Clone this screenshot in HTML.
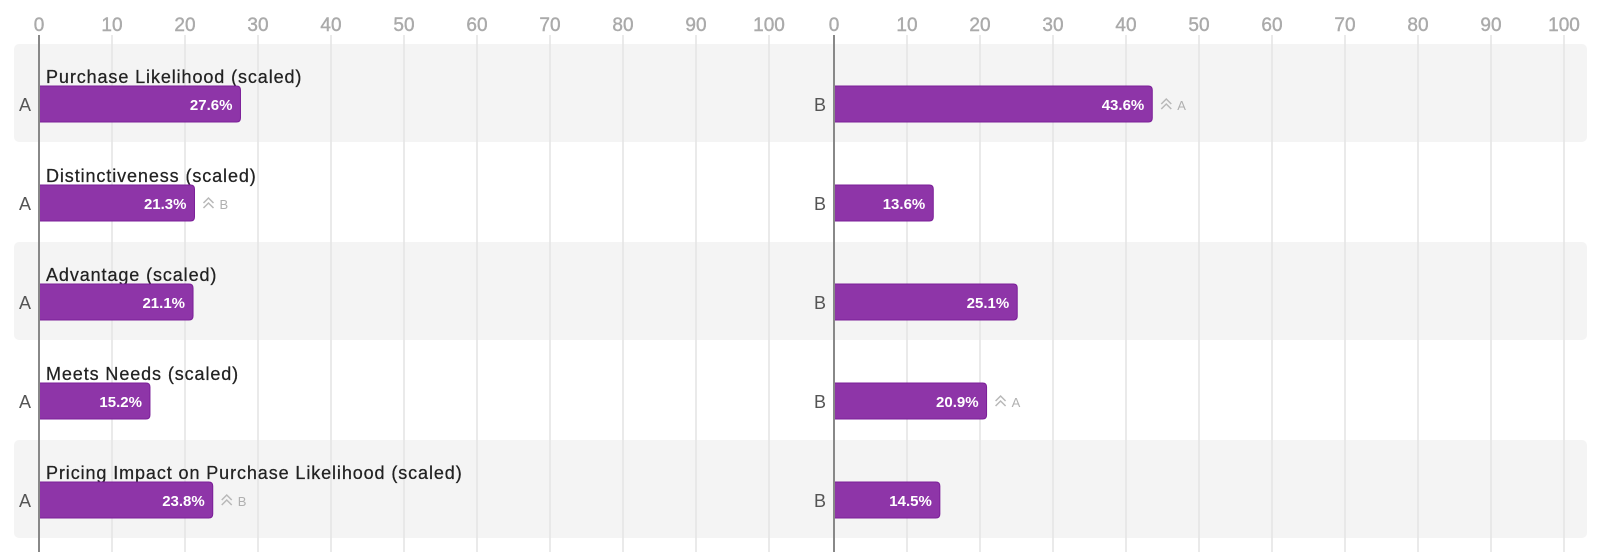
<!DOCTYPE html>
<html><head><meta charset="utf-8"><style>
html,body{margin:0;padding:0;background:#fff;}
svg{display:block;font-family:"Liberation Sans",sans-serif;}
</style></head><body>
<svg id="chart" width="1600" height="552" xmlns="http://www.w3.org/2000/svg"></svg>
<script>
const categories = ["Purchase Likelihood (scaled)","Distinctiveness (scaled)","Advantage (scaled)","Meets Needs (scaled)","Pricing Impact on Purchase Likelihood (scaled)"];
const seriesA = [27.6, 21.3, 21.1, 15.2, 23.8];
const seriesB = [43.6, 13.6, 25.1, 20.9, 14.5];
const sigA = ["", "B", "", "", "B"];
const sigB = ["A", "", "", "A", ""];
const ticks = [0,10,20,30,40,50,60,70,80,90,100];

const NS="http://www.w3.org/2000/svg";
const svg=document.getElementById('chart');
function mk(tag,attrs,parent){const e=document.createElementNS(NS,tag);for(const k in attrs)e.setAttribute(k,attrs[k]);(parent||svg).appendChild(e);return e;}
const panels=[{x0:39,name:'A',vals:seriesA,sig:sigA},{x0:834,name:'B',vals:seriesB,sig:sigB}];
const pxPer=7.3;
function xs(p,v){return p.x0+v*pxPer;}
const rowTop=44,rowH=99,bandH=99;
function ys(i){return rowTop+i*rowH;}

categories.forEach((c,i)=>{
  if(i%2===0){
    const b=mk('rect',{x:14,y:ys(i),width:1573,height:bandH-1,rx:5,fill:'#f4f4f4'});
    
    
  }
});
panels.forEach(p=>{
  ticks.forEach(t=>{
    const x=xs(p,t);
    if(t>0){const g=mk('line',{x1:x,x2:x,y1:35,y2:552,stroke:'#e3e3e3','stroke-width':1.5});
      
      }
    const tl=mk('text',{x:x,y:31,'text-anchor':'middle','font-size':19,fill:'#aaaaaa','stroke':'#aaaaaa','stroke-width':0.4});
    tl.textContent=t;
    
    
  });
});
categories.forEach((c,i)=>{
  const top=ys(i);
  const lab=mk('text',{x:46,y:top+39,'font-size':18,'letter-spacing':0.9,fill:'#222','stroke':'#222','stroke-width':0.25});
  lab.textContent=c;
  
  
  panels.forEach(p=>{
    const v=p.vals[i];
    const by=top+42,bh=36;
    const gl=mk('text',{x:p.x0-8,y:by+25,'text-anchor':'end','font-size':18,fill:'#555'});
    gl.textContent=p.name;
    
    
    const w=xs(p,v)-p.x0;
    const bar=mk('path',{d:`M${p.x0},${by} h${w-4} q4,0 4,4 v${bh-8} q0,4 -4,4 h${-(w-4)} z`,fill:'#8e35a8',stroke:'#7b1f98','stroke-width':1});
    
    
    const vt=mk('text',{x:xs(p,v)-8,y:by+24,'text-anchor':'end','font-size':15,'font-weight':'bold',fill:'#fff'});
    vt.textContent=v.toFixed(1)+'%';
    
    
    if(p.sig[i]){
      const gx=xs(p,v)+9, gy=by+13;
      const ch=mk('path',{d:`M${gx},${gy+5} l5,-5 l5,5 M${gx},${gy+10} l5,-5 l5,5`,fill:'none',stroke:'#b8b8b8','stroke-width':1.5});
      
      
      const s2=mk('text',{x:gx+16,y:by+24,'font-size':13,fill:'#b0b0b0'});
      s2.textContent=p.sig[i];
      
      
    }
  });
});
panels.forEach(p=>{
  const a=mk('line',{x1:p.x0,x2:p.x0,y1:35,y2:552,stroke:'#888','stroke-width':2});
  
  
});
</script>
</body></html>
